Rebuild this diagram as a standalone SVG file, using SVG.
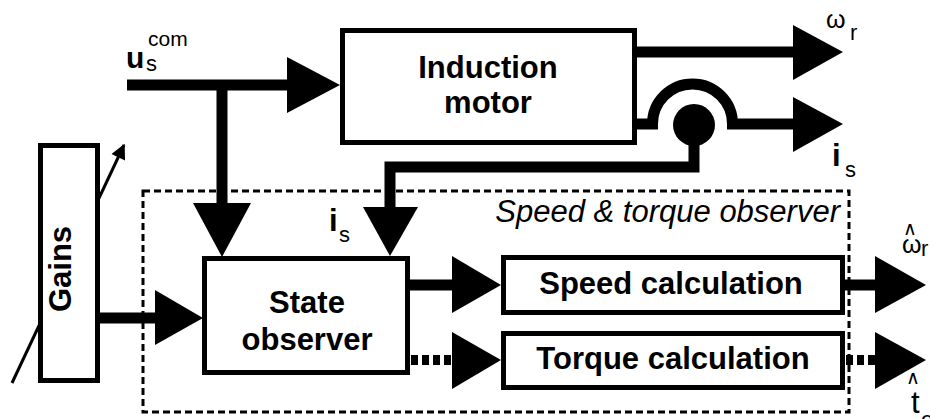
<svg xmlns="http://www.w3.org/2000/svg" width="930" height="419" viewBox="0 0 930 419">
<style>
.box{fill:#fff;stroke:#000;stroke-width:5}
.ln{fill:none;stroke:#000;stroke-width:11}
.dot{fill:none;stroke:#000;stroke-width:10;stroke-dasharray:7 4}
.head{fill:#000}
.bl{font-family:"Liberation Sans",Arial,sans-serif;font-weight:bold;font-size:31px;text-anchor:middle;fill:#000}
.lab{font-family:"Liberation Sans",Arial,sans-serif;fill:#000}
.hat{font-family:"DejaVu Sans",sans-serif;font-size:19px;font-weight:200;fill:#000}
</style>
<defs>
<marker id="thin" viewBox="0 0 10 10" refX="9" refY="5" markerWidth="6" markerHeight="5" orient="auto" markerUnits="strokeWidth">
<path d="M0,0 L10,5 L0,10 z" fill="#000"/>
</marker>
</defs>
<g id="observer-boundary">
<rect x="143" y="191" width="706" height="221" fill="none" stroke="#000" stroke-width="3" stroke-dasharray="7 4"/>
<text class="lab" x="840" y="222" font-size="31" font-style="italic" text-anchor="end">Speed &amp; torque observer</text>
</g>
<g id="connectors">
<path class="ln" d="M127,85 H290"/>
<path class="ln" d="M222,85 V206"/>
<path class="ln" d="M637,52 H796"/>
<path class="ln" d="M637,124 H652.5 A40,40 0 0 1 732.5,124 H796"/>
<path class="ln" d="M694,125 V167 H390 V210"/>
<path class="ln" d="M100,318 H158"/>
<path class="ln" d="M410,285 H455"/>
<path class="dot" d="M411,360 H452"/>
<path class="ln" d="M845,285 H878"/>
<path class="dot" d="M846,360 H875"/>
<circle cx="694" cy="125" r="21" fill="#000"/>
<polygon class="head" points="287,57 287,113 340,85"/>
<polygon class="head" points="193,203 251,203 222,257"/>
<polygon class="head" points="363,207 418,207 390,256"/>
<polygon class="head" points="793,25 793,80 843,52"/>
<polygon class="head" points="793,97 793,152 843,124"/>
<polygon class="head" points="155,290 155,345 203,318"/>
<polygon class="head" points="452,256 452,313 501,285"/>
<polygon class="head" points="452,332 452,389 501,360"/>
<polygon class="head" points="875,256 875,313 926,285"/>
<polygon class="head" points="875,332 875,389 926,360"/>
<line x1="12" y1="383" x2="124" y2="145" stroke="#000" stroke-width="3" marker-end="url(#thin)"/>
</g>
<g id="gains">
<rect class="box" x="40.5" y="145.5" width="57" height="235"/>
<text class="bl" font-size="30" transform="translate(71,269) rotate(-90)" x="0" y="0">Gains</text>
</g>
<g id="induction-motor">
<rect class="box" x="342.5" y="30.5" width="292" height="112"/>
<text class="bl" x="488" y="78">Induction</text>
<text class="bl" x="488" y="113">motor</text>
</g>
<g id="state-observer">
<rect class="box" x="204.5" y="258.5" width="203" height="114"/>
<text class="bl" x="307" y="313">State</text>
<text class="bl" x="307" y="350">observer</text>
</g>
<g id="speed-calculation">
<rect class="box" x="503.5" y="257.5" width="339" height="55"/>
<text class="bl" x="671" y="294">Speed calculation</text>
</g>
<g id="torque-calculation">
<rect class="box" x="503.5" y="333.5" width="339" height="54"/>
<text class="bl" x="673" y="369">Torque calculation</text>
</g>
<g id="labels">
<text class="lab" x="126" y="68" font-size="30" font-weight="bold">u<tspan x="146" y="71" font-size="22" font-weight="normal">s</tspan><tspan x="148" y="46" font-size="21" font-weight="normal">com</tspan></text>
<text class="lab" x="826" y="28" font-size="25">ω<tspan x="850" y="40" font-size="22">r</tspan></text>
<text class="lab" x="832" y="166" font-size="31" font-weight="bold">i<tspan x="845" y="177" font-size="22" font-weight="normal">s</tspan></text>
<text class="lab" x="329" y="231" font-size="31" font-weight="bold">i<tspan x="339" y="242" font-size="22" font-weight="normal">s</tspan></text>
<text class="hat" x="903" y="235">∧<tspan class="lab" x="902" y="253" font-size="25" font-weight="normal">ω</tspan><tspan class="lab" x="921" y="256" font-size="22" font-weight="normal">r</tspan></text>
<text class="hat" x="906" y="384">∧<tspan class="lab" x="911" y="413" font-size="31" font-weight="normal">t</tspan><tspan class="lab" x="921" y="427" font-size="22" font-weight="normal">e</tspan></text>
</g>
</svg>
